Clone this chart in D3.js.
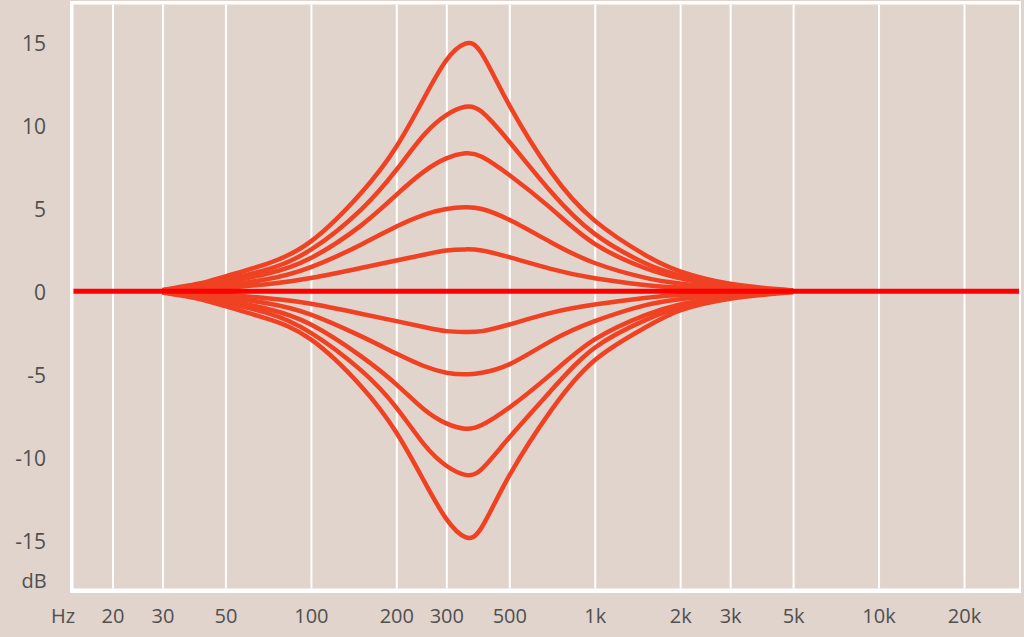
<!DOCTYPE html>
<html>
<head>
<meta charset="utf-8">
<script src="https://cdn.jsdelivr.net/npm/d3@7"></script>
<style>
  html, body { margin: 0; padding: 0; background: #e1d4cd; }
  svg { display: block; }
  text { font-family: "Open Sans", "Noto Sans", sans-serif; fill: #505050; }
</style>
</head>
<body>
<svg id="chart" width="1024" height="637"></svg>
<script>
// ---- data ----
const tickFreqs = [20, 30, 50, 100, 200, 300, 500, 1000, 2000, 3000, 5000, 10000, 20000];
const tickFreqLabels = ["20", "30", "50", "100", "200", "300", "500", "1k", "2k", "3k", "5k", "10k", "20k"];
const dbTicks = [15, 10, 5, 0, -5, -10, -15];
const dbTickLabels = ["15", "10", "5", "0", "-5", "-10", "-15"];

const freqs = [30, 40, 50, 70, 100, 150, 200, 250, 300, 350, 400, 500, 700, 1000, 1500, 2000, 3000, 5000];

const boost15  = [0.08, 0.45, 0.9, 1.65, 3.0, 5.9, 8.7, 11.6, 13.9, 14.9, 14.3, 11.2, 7.2, 4.25, 2.2, 1.2, 0.45, 0.05];
const boost11  = [0.06, 0.34, 0.7, 1.3, 2.5, 4.9, 7.3, 9.4, 10.6, 11.1, 10.8, 9.0, 6.0, 3.45, 1.7, 0.95, 0.35, 0.04];
const boost8   = [0.05, 0.27, 0.55, 1.05, 2.0, 3.95, 5.8, 7.2, 8.0, 8.3, 8.1, 7.0, 5.0, 2.85, 1.4, 0.78, 0.27, 0.03];
const boost5   = [0.03, 0.18, 0.36, 0.72, 1.45, 2.8, 3.9, 4.6, 4.95, 5.05, 4.95, 4.3, 2.95, 1.7, 0.82, 0.46, 0.16, 0.02];
const boost2   = [0.02, 0.09, 0.2, 0.42, 0.8, 1.4, 1.85, 2.2, 2.45, 2.52, 2.45, 2.05, 1.35, 0.78, 0.38, 0.22, 0.08, 0.01];
const cut2     = [-0.02, -0.09, -0.2, -0.42, -0.75, -1.35, -1.8, -2.15, -2.4, -2.45, -2.4, -2.0, -1.3, -0.8, -0.4, -0.22, -0.08, -0.01];
const cut5     = [-0.03, -0.18, -0.36, -0.72, -1.4, -2.7, -3.75, -4.5, -4.9, -5.0, -4.9, -4.4, -3.0, -1.8, -0.85, -0.48, -0.16, -0.02];
const cut8     = [-0.05, -0.27, -0.55, -1.05, -2.0, -3.9, -5.6, -7.1, -7.95, -8.27, -8.05, -7.0, -5.0, -2.9, -1.45, -0.8, -0.28, -0.03];
const cut11    = [-0.06, -0.34, -0.7, -1.3, -2.5, -4.75, -7.0, -9.2, -10.5, -11.05, -10.7, -8.8, -6.0, -3.4, -1.75, -0.97, -0.35, -0.04];
const cut15    = [-0.08, -0.45, -0.9, -1.65, -2.9, -5.7, -8.5, -11.4, -13.7, -14.8, -14.2, -11.1, -7.2, -4.15, -2.2, -1.15, -0.45, -0.05];

const curves = [boost15, boost11, boost8, boost5, boost2, cut2, cut5, cut8, cut11, cut15];

// ---- layout ----
const W = 1024, H = 637;
const frame = { left: 70, top: 1, right: 1021, bottom: 593 };
const plot = { left: 73.5, top: 4.5, right: 1019, bottom: 588.5 };

const svg = d3.select("#chart");

const x = d3.scaleLog().domain([20, 20000]).range([112.5, 964]);
const y = d3.scaleLinear().domain([-15, 15]).range([540.5, 42]);

// frame and plot background
svg.append("rect").attr("x", 0).attr("y", 0).attr("width", W).attr("height", H).attr("fill", "#e1d4cd");
svg.append("rect")
  .attr("x", frame.left).attr("y", frame.top)
  .attr("width", frame.right - frame.left).attr("height", frame.bottom - frame.top)
  .attr("fill", "#ffffff");
svg.append("rect")
  .attr("x", plot.left).attr("y", plot.top)
  .attr("width", plot.right - plot.left).attr("height", plot.bottom - plot.top)
  .attr("fill", "#e1d4cd");

// vertical grid lines via axis
const gridAxis = d3.axisBottom(x)
  .tickValues(tickFreqs)
  .tickSize(-(plot.bottom - plot.top))
  .tickFormat("");
const gridG = svg.append("g")
  .attr("transform", `translate(0,${plot.bottom})`)
  .call(gridAxis);
gridG.select(".domain").remove();
gridG.selectAll(".tick line").attr("stroke", "#ffffff").attr("stroke-width", 2);

// x tick labels
const xAxis = d3.axisBottom(x)
  .tickValues(tickFreqs)
  .tickSize(0)
  .tickFormat((d, i) => tickFreqLabels[i]);
const xG = svg.append("g").attr("transform", "translate(0,604)").call(xAxis);
xG.select(".domain").remove();
xG.selectAll(".tick text")
  .attr("dy", 0).attr("y", 11.5)
  .attr("dominant-baseline", "central")
  .style("font-family", '"Open Sans", "Noto Sans", sans-serif')
  .style("font-size", "20px").attr("fill", "#505050");

// y tick labels
const yAxis = d3.axisLeft(y)
  .tickValues(dbTicks)
  .tickSize(0)
  .tickFormat((d, i) => dbTickLabels[i]);
const yG = svg.append("g").attr("transform", "translate(46,0)").call(yAxis);
yG.select(".domain").remove();
yG.selectAll(".tick text")
  .attr("x", 0).attr("dy", 0)
  .attr("dominant-baseline", "central")
  .style("font-family", '"Open Sans", "Noto Sans", sans-serif')
  .style("font-size", "21px").attr("fill", "#505050");

// unit labels
svg.append("text").attr("x", 34).attr("y", 580)
  .attr("text-anchor", "middle").attr("dominant-baseline", "central")
  .style("font-size", "20px").text("dB");
svg.append("text").attr("x", 63).attr("y", 615.5)
  .attr("text-anchor", "middle").attr("dominant-baseline", "central")
  .style("font-size", "20px").text("Hz");

// curves
const line = d3.line()
  .x((d, i) => x(freqs[i]))
  .y(d => y(d))
  .curve(d3.curveNatural);

svg.append("g").selectAll("path")
  .data(curves)
  .join("path")
  .attr("d", d => line(d))
  .attr("fill", "none")
  .attr("stroke", "#f04123")
  .attr("stroke-width", 4.5)
  .attr("stroke-linejoin", "round")
  .attr("stroke-linecap", "butt");

// flat 0 dB line across the full plot
svg.append("line")
  .attr("x1", plot.left).attr("x2", plot.right)
  .attr("y1", y(0)).attr("y2", y(0))
  .attr("stroke", "#ff0000")
  .attr("stroke-width", 5);
</script>
</body>
</html>
